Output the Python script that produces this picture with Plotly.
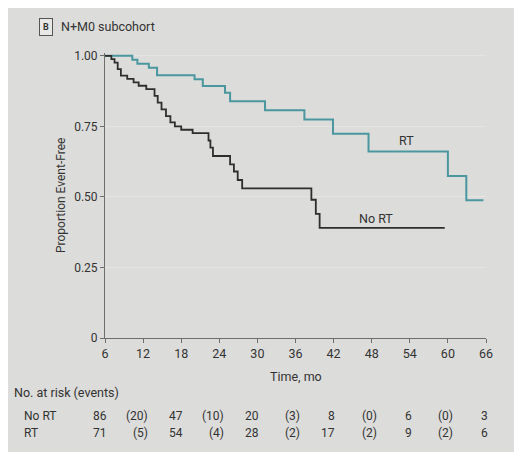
import plotly.graph_objects as go

# Kaplan-Meier steps (time in months, proportion event-free)
no_rt_time = [6, 7.0, 7.5, 8.0, 8.5, 9.5, 10.5, 11.3, 12.5, 13.8, 14.3, 14.9, 15.6,
              16.3, 17.0, 18.0, 19.8, 22.3, 22.6, 23.0, 25.7, 26.3, 26.9, 27.6,
              38.5, 39.2, 39.8, 59.5]
no_rt_surv = [1.0, 0.988, 0.976, 0.953, 0.93, 0.918, 0.906, 0.894, 0.882, 0.858, 0.834,
              0.81, 0.786, 0.764, 0.75, 0.738, 0.726, 0.70, 0.675, 0.645, 0.615, 0.59,
              0.56, 0.53, 0.49, 0.44, 0.39, 0.39]

rt_time = [6, 10.3, 11.1, 12.9, 14.2, 20.1, 21.4, 24.9, 25.7, 31.2, 37.4, 41.9,
           47.5, 60.0, 62.9, 65.6]
rt_surv = [1.0, 0.986, 0.972, 0.958, 0.931, 0.917, 0.893, 0.869, 0.839, 0.807,
           0.774, 0.724, 0.661, 0.574, 0.488, 0.488]

# number at risk table
risk_times = [6, 18, 30, 42, 54, 66]
event_times = [12, 24, 36, 48, 60]
no_rt_at_risk = ["86", "47", "20", "8", "6", "3"]
no_rt_events = ["(20)", "(10)", "(3)", "(0)", "(0)"]
rt_at_risk = ["71", "54", "28", "17", "9", "6"]
rt_events = ["(5)", "(4)", "(2)", "(2)", "(2)"]

x_ticks = [6, 12, 18, 24, 30, 36, 42, 48, 54, 60, 66]
y_ticks = [0, 0.25, 0.5, 0.75, 1.0]
y_tick_text = ["0", "0.25", "0.50", "0.75", "1.00"]

FONT = "Roboto, Lato, sans-serif"
TXT = "#333333"
BG = "#dcdcda"
X0, X1 = 6, 66

fig = go.Figure()
fig.add_trace(go.Scatter(x=rt_time, y=rt_surv, mode="lines", line_shape="hv",
                         line=dict(color="#4a979f", width=2), name="RT"))
fig.add_trace(go.Scatter(x=no_rt_time, y=no_rt_surv, mode="lines", line_shape="hv",
                         line=dict(color="#2e2e2e", width=1.8), name="No RT"))

# plot area spans pixel 330 (bottom) to 45 (top), 97 (left) to 478 (right)
def py(pix):
    return (330 - pix) / 285.0

def px(pix):
    return (pix - 97) / 381.0

def xd(t):
    # data month -> paper x (so labels beyond the range are not dropped)
    return (t - X0) / (X1 - X0)

ann = []
ann.append(dict(x=px(31), y=py(19), xref="paper", yref="paper", text="<b>B</b>",
                showarrow=False, xanchor="left", yanchor="middle",
                font=dict(size=9, color=TXT), bordercolor="#555555", borderwidth=1,
                borderpad=3, bgcolor="#e8e8e6"))
ann.append(dict(x=px(51), y=py(19), xref="paper", yref="paper", text="N+M0 subcohort",
                showarrow=False, xanchor="left", yanchor="middle",
                font=dict(size=12.5, color=TXT)))
ann.append(dict(x=px(53), y=py(188), xref="paper", yref="paper",
                text="Proportion Event-Free", textangle=-90, showarrow=False,
                xanchor="center", yanchor="middle", font=dict(size=12, color=TXT)))
ann.append(dict(x=xd(36), y=py(368), xref="paper", yref="paper", text="Time, mo",
                showarrow=False, xanchor="center", yanchor="middle",
                font=dict(size=12.5, color=TXT)))
ann.append(dict(x=px(4), y=py(384), xref="paper", yref="paper", text="No. at risk (events)",
                showarrow=False, xanchor="left", yanchor="middle",
                font=dict(size=12.5, color=TXT)))
ann.append(dict(x=px(14), y=py(408), xref="paper", yref="paper", text="No RT",
                showarrow=False, xanchor="left", yanchor="middle",
                font=dict(size=12, color=TXT)))
ann.append(dict(x=px(14), y=py(425), xref="paper", yref="paper", text="RT",
                showarrow=False, xanchor="left", yanchor="middle",
                font=dict(size=12, color=TXT)))

for row_y, counts, events in [(408, no_rt_at_risk, no_rt_events),
                              (425, rt_at_risk, rt_events)]:
    for t, c in zip(risk_times, counts):
        ann.append(dict(x=xd(t + 0.6), y=py(row_y), xref="paper", yref="paper", text=c,
                        showarrow=False, xanchor="right", yanchor="middle",
                        font=dict(size=12, color=TXT)))
    for t, e in zip(event_times, events):
        ann.append(dict(x=xd(t + 1.1), y=py(row_y), xref="paper", yref="paper", text=e,
                        showarrow=False, xanchor="right", yanchor="middle",
                        font=dict(size=12, color=TXT)))

# curve labels
ann.append(dict(x=53.5, y=0.70, xref="x", yref="y", text="RT", showarrow=False,
                font=dict(size=12.5, color=TXT)))
ann.append(dict(x=48.6, y=0.425, xref="x", yref="y", text="No RT", showarrow=False,
                font=dict(size=12.5, color=TXT)))

fig.update_layout(
    width=522, height=452,
    margin=dict(l=97, r=44, t=45, b=122),
    paper_bgcolor=BG, plot_bgcolor=BG,
    showlegend=False,
    font=dict(family=FONT, size=12, color=TXT),
    annotations=ann,
)
fig.update_xaxes(range=[X0, X1], tickvals=x_ticks, showgrid=False, zeroline=False,
                 showline=True, linecolor="#6e6e6e", linewidth=1,
                 ticks="outside", ticklen=4, tickcolor="#6e6e6e",
                 tickfont=dict(size=12.5, color=TXT))
fig.update_yaxes(range=[0, 1.01], tickvals=y_ticks, ticktext=y_tick_text,
                 showgrid=True, gridcolor="#e4e4e2", gridwidth=1, zeroline=False,
                 showline=True, linecolor="#6e6e6e", linewidth=1,
                 ticks="outside", ticklen=4, tickcolor="#6e6e6e",
                 tickfont=dict(size=12, color=TXT))

fig.write_html("out.html")
